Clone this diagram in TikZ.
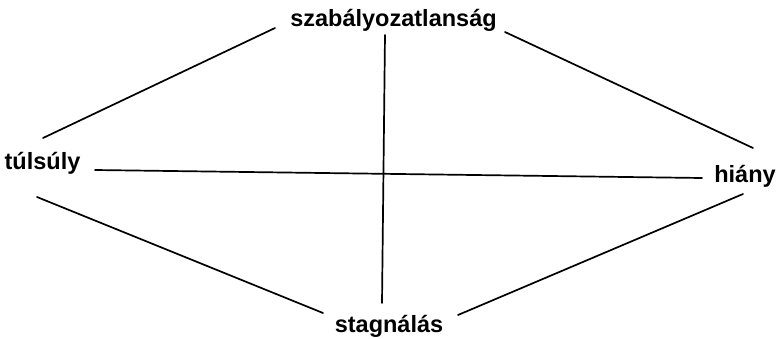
\documentclass[tikz,border=0pt]{standalone}
\usepackage{fontspec}
\setmainfont{Liberation Sans}
\begin{document}
\begin{tikzpicture}[x=1pt,y=-1pt,
  lbl/.style={font=\bfseries\fontsize{23.5}{28}\selectfont, inner sep=0pt, anchor=base},
  conn/.style={line width=1.7pt, line cap=round}]
\useasboundingbox (0,0) rectangle (780,338);
\node[lbl] (sz) at (393.5,26) {szabályozatlanság};
\node[lbl] (tul) at (42.5,169) {túlsúly};
\node[lbl] (hi) at (745,182) {hiány};
\node[lbl] (st) at (389,332) {stagnálás};
% connector ends
\coordinate (ul1) at (43,138);
\coordinate (ul2) at (275,28);
\coordinate (ur1) at (505,32);
\coordinate (ur2) at (753,148);
\coordinate (ll1) at (37,197);
\coordinate (ll2) at (323,313);
\coordinate (lr1) at (458,315);
\coordinate (lr2) at (743,194);
\coordinate (v1) at (385,35);
\coordinate (v2) at (382,303);
\coordinate (h1) at (95,170);
\coordinate (h2) at (702,178);
\draw[conn] (ul1) -- (ul2);
\draw[conn] (ur1) -- (ur2);
\draw[conn] (ll1) -- (ll2);
\draw[conn] (lr1) -- (lr2);
\draw[conn] (v1) -- (v2);
\draw[conn] (h1) -- (h2);
\end{tikzpicture}
\end{document}
